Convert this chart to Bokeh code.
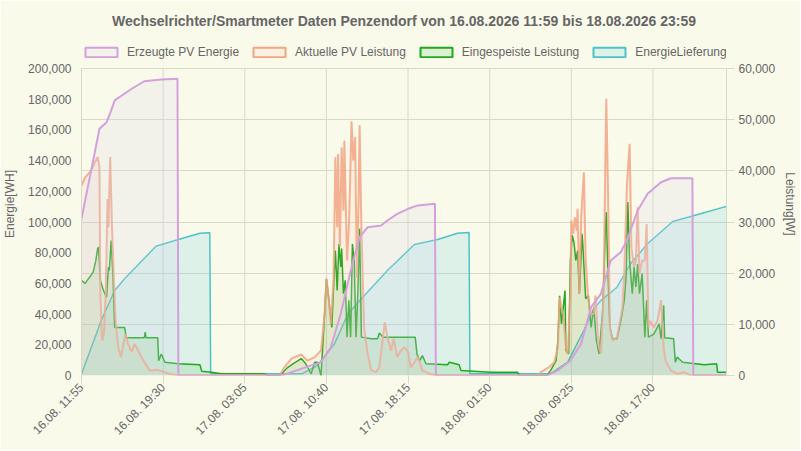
import math
from bokeh.plotting import figure
from bokeh.models import (Range1d, LinearAxis, FixedTicker, NumeralTickFormatter, Grid,
                          Legend, LegendItem, ColumnDataSource)
from bokeh.embed import file_html
from bokeh.resources import INLINE

TITLE = "Wechselrichter/Smartmeter Daten Penzendorf von 16.08.2026 11:59 bis 18.08.2026 23:59"
TICK_LABELS = ["16.08. 11:55", "16.08. 19:30", "17.08. 03:05", "17.08. 10:40",
               "17.08. 18:15", "18.08. 01:50", "18.08. 09:25", "18.08. 17:00"]
TICK_STEP_MIN = 455
X_END_MIN = 3595
E_MAX = 200000
P_MAX = 60000

# (minutes since 16.08. 11:55, value)
EPV = [(0,102100),(100,160700),(140,165000),(165,172600),(185,179200),(225,182400),(280,186800),
       (350,191700),(445,192800),(535,193300),(540,0),(1115,0),(1335,8700),(1390,18400),(1445,40200),
       (1505,70600),(1550,90100),(1595,96600),(1670,97700),(1705,101000),(1760,105300),(1820,108600),
       (1875,110800),(1970,111900),(1975,0),(2595,0),(2655,3300),(2725,9800),(2785,20600),(2840,44500),
       (2895,53200),(2950,74900),(3005,80300),(3040,88000),(3100,107500),(3155,118400),(3230,125900),
       (3285,128500),(3405,128500),(3410,0),(3595,0)]

PPV = [(0,37100),(20,38700),(55,40100),(75,41700),(90,42700),(100,40700),(105,16000),(115,6800),
       (125,8100),(135,16000),(145,34500),(150,29000),(160,42700),(170,29000),(180,19200),(190,10700),
       (205,5500),(220,3600),(230,5500),(245,8100),(260,6200),(280,4600),(295,6200),(315,4900),
       (345,2900),(380,1000),(425,1100),(480,450),(540,0),(1105,0),(1130,1600),(1170,3300),(1225,4100),
       (1260,2900),(1300,3600),(1335,4900),(1355,12000),(1365,18900),(1375,16000),(1390,10100),
       (1405,19200),(1415,42700),(1425,29000),(1430,43300),(1440,25100),(1450,44600),(1460,32200),
       (1465,45900),(1480,22500),(1490,29000),(1495,34800),(1505,49700),(1515,42000),(1525,46600),
       (1535,19200),(1545,35500),(1550,48900),(1560,29000),(1575,9400),(1595,4200),(1615,1000),
       (1640,650),(1660,1600),(1680,7500),(1690,10400),(1705,7500),(1725,4900),(1740,7200),(1760,3600),
       (1780,4900),(1800,5500),(1820,4600),(1835,1600),(1855,2600),(1875,3600),(1900,1000),(1940,330),
       (1975,0),(2540,0),(2560,650),(2605,1600),(2635,2600),(2655,5500),(2665,15300),(2675,13300),
       (2685,12000),(2700,5500),(2710,4200),(2725,16000),(2730,30300),(2740,27700),(2750,30900),
       (2760,28300),(2765,32600),(2775,16000),(2785,30900),(2800,39700),(2810,22500),(2825,14700),
       (2840,12000),(2855,12000),(2865,15600),(2880,6200),(2895,4200),(2910,16000),(2920,42000),
       (2925,54100),(2935,35500),(2945,9400),(2960,6800),(2985,7500),(3015,13300),(3025,19900),
       (3040,37100),(3055,45300),(3065,25100),(3080,21200),(3090,22500),(3100,32900),(3110,19900),
       (3125,22500),(3140,22500),(3150,29600),(3160,9400),(3170,10700),(3190,9400),(3210,10700),
       (3230,14700),(3245,5500),(3255,2900),(3285,1000),(3320,330),(3360,650),(3395,0),(3595,0)]

PFEED = [(0,18600),(20,18000),(45,19200),(65,20200),(80,22500),(90,24800),(95,25100),(105,18600),
         (120,16900),(130,16000),(140,15300),(150,21200),(155,20500),(165,26400),(175,19900),(185,9400),
         (240,9400),(250,7400),(350,7400),(355,8500),(360,7400),(425,7400),(430,2900),(445,4200),
         (465,2600),(540,2300),(660,2100),(670,850),(725,650),(780,330),(1020,330),(1040,0),(1105,0),
         (1150,1600),(1185,2400),(1225,3300),(1250,2300),(1280,330),(1300,2600),(1315,2600),(1335,0),
         (1355,12000),(1365,18900),(1375,16000),(1395,9400),(1405,17300),(1415,24400),(1425,16600),
         (1435,25700),(1445,21200),(1450,24800),(1460,16000),(1470,18600),(1480,7500),(1490,14700),
         (1500,7500),(1510,25700),(1520,22500),(1530,7500),(1540,16000),(1550,28700),(1560,7500),
         (1615,7200),(1650,7200),(1660,8300),(1680,7500),(1860,7500),(1870,4200),(1885,2900),
         (1900,3900),(1920,2300),(2040,2100),(2050,2600),(2105,2100),(2115,1000),(2280,650),(2430,650),
         (2440,0),(2595,0),(2615,1000),(2645,2900),(2655,6800),(2665,15600),(2675,10100),(2685,13300),
         (2695,16600),(2700,4900),(2715,4200),(2725,22500),(2735,27400),(2745,26000),(2755,22500),
         (2765,24400),(2775,16000),(2790,27700),(2795,25100),(2810,15000),(2825,15600),(2840,9400),
         (2855,13300),(2870,6800),(2885,4200),(2905,12700),(2920,29000),(2925,31900),(2935,19200),
         (2945,9400),(2960,7200),(2985,7200),(3010,11400),(3025,14700),(3035,19200),(3045,33900),
         (3055,22500),(3070,16000),(3080,21200),(3090,17300),(3100,21800),(3110,16000),(3125,19900),
         (3140,7500),(3150,14700),(3160,7500),(3190,8100),(3220,10100),(3230,7200),(3245,13700),
         (3250,7400),(3300,7200),(3310,2600),(3320,3600),(3350,2600),(3470,2100),(3540,2300),
         (3545,650),(3595,650)]

ELIEF = [(0,1000),(110,35800),(185,55400),(240,63000),(415,84200),(540,88600),(660,92700),(715,93000),
         (720,1200),(1115,1200),(1230,1200),(1315,6500),(1410,20600),(1485,40200),(1560,50000),
         (1705,68400),(1855,85300),(1985,88600),(2095,92700),(2160,93200),(2165,1200),(2615,1200),
         (2710,8700),(2800,29300),(2855,43400),(2895,48900),(2985,57500),(3060,72800),(3155,85800),
         (3295,100300),(3430,104700),(3580,109700),(3595,110000)]

BG = "#fafaeb"
GRID = "#d9d9c9"
TXT = "#666666"
FONT = "Liberation Sans"
NAN = float("nan")

# layout (pixels): plot area 80..726 x 68..375, frame extended upward to hold the legend
W, H = 800, 450
FRAME_L, FRAME_R, PLOT_T, FRAME_T, FRAME_B = 80, 726, 68, 32, 375
HEAD = (FRAME_B - FRAME_T) / (FRAME_B - PLOT_T)

p = figure(width=W, height=H, output_backend="svg", toolbar_location=None,
           x_range=Range1d(0, X_END_MIN), y_range=Range1d(0, E_MAX * HEAD),
           background_fill_color=BG, border_fill_color=BG, outline_line_color=None,
           min_border_left=FRAME_L, min_border_right=W - FRAME_R,
           min_border_top=FRAME_T, min_border_bottom=H - FRAME_B)
p.extra_y_ranges = {"power": Range1d(0, P_MAX * HEAD)}

p.title.text = TITLE
p.title.align = "center"
p.title.text_font = FONT
p.title.text_font_size = "14px"
p.title.text_font_style = "bold"
p.title.text_color = TXT
p.title.standoff = 8

series = [
    ("Erzeugte PV Energie", EPV, "default", "#d4a0dc", 2.0, 1.0, "#d8d8ee", 0.22),
    ("Aktuelle PV Leistung", PPV, "power", "#f2a584", 2.0, 0.85, "#f5a080", 0.1),
    ("Eingespeiste Leistung", PFEED, "power", "#1eaa1e", 1.5, 1.0, "#22aa22", 0.12),
    ("EnergieLieferung", ELIEF, "default", "#4cc3c8", 1.5, 1.0, "#3cc0d8", 0.15),
]

tick_pos = [i * TICK_STEP_MIN for i in range(len(TICK_LABELS))]

# vertical grid lines limited to the plot area
p.segment(x0=tick_pos, y0=[0] * len(tick_pos), x1=tick_pos, y1=[E_MAX] * len(tick_pos),
          line_color=GRID, line_width=1)

for name, data, rng, lc, lw, la, fc, fa in reversed(series):
    t, v = zip(*data)
    zeros = [0] * len(v)
    src = ColumnDataSource(dict(t=list(t), v=list(v), z=zeros))
    p.varea(x="t", y1="z", y2="v", source=src, fill_color=fc, fill_alpha=fa, y_range_name=rng)
    p.line(x="t", y="v", source=src, line_color=lc, line_width=lw, line_alpha=la, y_range_name=rng)

items = []
for name, data, rng, lc, lw, la, fc, fa in series:
    dsrc = ColumnDataSource(dict(l=[NAN], r=[NAN], t=[NAN], b=[NAN]))
    dummy = p.quad(left="l", right="r", top="t", bottom="b", source=dsrc,
                   fill_color=fc, fill_alpha=fa, line_color=lc, line_width=2)
    items.append(LegendItem(label=name, renderers=[dummy]))

legend = Legend(items=items, orientation="horizontal", location=(0, FRAME_B - 59),
                glyph_width=40, glyph_height=12, label_standoff=6, spacing=10,
                label_text_font=FONT, label_text_font_size="12px", label_text_color=TXT,
                border_line_alpha=0, background_fill_alpha=0, padding=0, margin=0)
p.add_layout(legend, "center")

xa = p.xaxis[0]
xa.ticker = FixedTicker(ticks=tick_pos)
xa.major_label_overrides = {pos: lab for pos, lab in zip(tick_pos, TICK_LABELS)}
xa.major_label_orientation = math.pi / 4
xa.axis_line_color = None
xa.major_tick_line_color = GRID
xa.major_tick_out = 8
xa.major_tick_in = 0
xa.minor_tick_line_color = None
xa.major_label_text_font = FONT
xa.major_label_text_font_size = "12px"
xa.major_label_text_color = TXT
xa.major_label_standoff = 2

ya = p.yaxis[0]
ya.ticker = FixedTicker(ticks=list(range(0, E_MAX + 1, 20000)))
ya.formatter = NumeralTickFormatter(format="0,0")
ya.bounds = (0, E_MAX)
ya.axis_label = "Energie[WH]"
ya.axis_line_color = GRID
ya.major_tick_line_color = None
ya.major_tick_out = 0
ya.minor_tick_line_color = None
ya.major_label_standoff = 10
ya.major_label_text_font = FONT
ya.major_label_text_font_size = "12px"
ya.major_label_text_color = TXT
ya.axis_label_text_font = FONT
ya.axis_label_text_font_size = "12px"
ya.axis_label_text_font_style = "normal"
ya.axis_label_text_color = TXT
ya.axis_label_standoff = 8

yr = LinearAxis(y_range_name="power", ticker=FixedTicker(ticks=list(range(0, P_MAX + 1, 10000))),
                formatter=NumeralTickFormatter(format="0,0"), axis_label="Leistung[W]",
                bounds=(0, P_MAX))
yr.axis_line_color = GRID
yr.major_tick_line_color = GRID
yr.major_tick_out = 8
yr.major_tick_in = 0
yr.minor_tick_line_color = None
yr.major_label_standoff = 4
yr.major_label_text_font = FONT
yr.major_label_text_font_size = "12px"
yr.major_label_text_color = TXT
yr.axis_label_text_font = FONT
yr.axis_label_text_font_size = "12px"
yr.axis_label_text_font_style = "normal"
yr.axis_label_text_color = TXT
yr.axis_label_standoff = 5
p.add_layout(yr, "right")

p.ygrid.visible = False
p.xgrid.visible = False
p.add_layout(Grid(dimension=1, ticker=yr.ticker, y_range_name="power", grid_line_color=GRID))

open("out.html", "w").write(file_html(p, INLINE))
